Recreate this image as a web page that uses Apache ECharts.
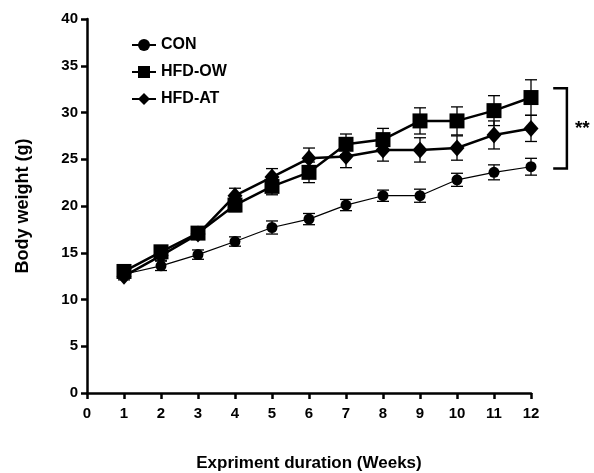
<!DOCTYPE html>
<html>
<head>
<meta charset="utf-8">
<script src="https://cdn.jsdelivr.net/npm/echarts@6/dist/echarts.min.js"></script>
<style>
  html, body { margin: 0; padding: 0; background: #fff; }
  #main { width: 594px; height: 473px; }
</style>
</head>
<body>
<div id="main"></div>
<script>
// weeks on x axis
var weeks = [1, 2, 3, 4, 5, 6, 7, 8, 9, 10, 11, 12];

// group means (g)
var conMean = [12.7, 13.6, 14.8, 16.2, 17.7, 18.6, 20.1, 21.1, 21.1, 22.8, 23.6, 24.2];
var owMean  = [13.0, 15.1, 17.1, 20.1, 22.1, 23.6, 26.6, 27.1, 29.1, 29.1, 30.2, 31.6];
var atMean  = [12.5, 14.7, 17.0, 21.1, 23.1, 25.1, 25.3, 26.0, 26.0, 26.2, 27.6, 28.3];

// error (+/-)
var conErr = [0.4, 0.5, 0.5, 0.5, 0.7, 0.6, 0.6, 0.6, 0.7, 0.7, 0.8, 0.9];
var owErr  = [0.4, 0.5, 0.5, 0.7, 0.9, 1.1, 1.1, 1.2, 1.4, 1.5, 1.6, 1.9];
var atErr  = [0.4, 0.5, 0.5, 0.8, 0.9, 1.1, 1.2, 1.2, 1.3, 1.3, 1.5, 1.4];

// significance bracket (data units) and label
var bracketX = [12.6, 12.97];
var bracketY = [24.0, 32.6];
var sigText = '**';

var fontName = 'Liberation Sans';

function pairs(m) {
  return weeks.map(function (w, i) { return [w, m[i]]; });
}
function errData(m, e) {
  return weeks.map(function (w, i) { return [w, m[i], e[i]]; });
}

// error bars with caps
function errRender(params, api) {
  var x = api.value(0), m = api.value(1), e = api.value(2);
  var top = api.coord([x, m + e]);
  var bot = api.coord([x, m - e]);
  var w = 6;
  var st = { stroke: '#000', lineWidth: 1.3 };
  return {
    type: 'group',
    children: [
      { type: 'line', shape: { x1: top[0], y1: top[1], x2: bot[0], y2: bot[1] }, style: st },
      { type: 'line', shape: { x1: top[0] - w, y1: top[1], x2: top[0] + w, y2: top[1] }, style: st },
      { type: 'line', shape: { x1: bot[0] - w, y1: bot[1], x2: bot[0] + w, y2: bot[1] }, style: st }
    ]
  };
}

function errSeries(m, e) {
  return {
    type: 'custom',
    renderItem: errRender,
    data: errData(m, e),
    z: 1,
    silent: true
  };
}

var chart = echarts.init(document.getElementById('main'));

var option = {
  animation: false,
  textStyle: { fontFamily: fontName },
  grid: { left: 87, right: 63, top: 19, bottom: 80, outerBoundsMode: 'none' },
  legend: {
    data: ['CON', 'HFD-OW', 'HFD-AT'],
    orient: 'vertical',
    left: 126,
    top: 32,
    itemGap: 11,
    itemWidth: 24,
    itemHeight: 15,
    textStyle: { fontFamily: fontName, fontWeight: 'bold', fontSize: 16, color: '#000' }
  },
  xAxis: {
    type: 'value',
    min: 0,
    max: 12,
    interval: 1,
    name: 'Expriment duration (Weeks)',
    nameLocation: 'middle',
    nameGap: 62,
    nameTextStyle: { fontFamily: fontName, fontWeight: 'bold', fontSize: 17, color: '#000' },
    axisLine: { lineStyle: { color: '#000', width: 2.5 } },
    axisTick: { show: true, length: 6, lineStyle: { color: '#000', width: 2.5 } },
    axisLabel: { fontFamily: fontName, fontWeight: 'bold', fontSize: 15, color: '#000', margin: 13 },
    splitLine: { show: false }
  },
  yAxis: {
    type: 'value',
    min: 0,
    max: 40,
    interval: 5,
    name: 'Body weight (g)',
    nameLocation: 'middle',
    nameGap: 55,
    nameTextStyle: { fontFamily: fontName, fontWeight: 'bold', fontSize: 18, color: '#000' },
    axisLine: { show: true, lineStyle: { color: '#000', width: 2.5 } },
    axisTick: { show: true, length: 6, lineStyle: { color: '#000', width: 2.5 } },
    axisLabel: { fontFamily: fontName, fontWeight: 'bold', fontSize: 15, color: '#000', margin: 9 },
    splitLine: { show: false }
  },
  series: [
    errSeries(conMean, conErr),
    errSeries(owMean, owErr),
    errSeries(atMean, atErr),
    {
      name: 'CON',
      type: 'line',
      data: pairs(conMean),
      symbol: 'circle',
      symbolSize: 11,
      lineStyle: { color: '#000', width: 1.2 },
      itemStyle: { color: '#000' },
      z: 3
    },
    {
      name: 'HFD-OW',
      type: 'line',
      data: pairs(owMean),
      symbol: 'rect',
      symbolSize: 15,
      lineStyle: { color: '#000', width: 2.5 },
      itemStyle: { color: '#000' },
      z: 3
    },
    {
      name: 'HFD-AT',
      type: 'line',
      data: pairs(atMean),
      symbol: 'diamond',
      symbolSize: [15, 17],
      lineStyle: { color: '#000', width: 2.5 },
      itemStyle: { color: '#000' },
      z: 3
    },
    {
      // significance bracket
      type: 'custom',
      clip: false,
      silent: true,
      data: [[bracketX[0], bracketX[1], bracketY[0], bracketY[1]]],
      renderItem: function (params, api) {
        var a = api.coord([api.value(0), api.value(3)]);
        var b = api.coord([api.value(1), api.value(3)]);
        var c = api.coord([api.value(1), api.value(2)]);
        var d = api.coord([api.value(0), api.value(2)]);
        var mid = (b[1] + c[1]) / 2;
        return {
          type: 'group',
          children: [
            {
              type: 'polyline',
              shape: { points: [a, b, c, d] },
              style: { stroke: '#000', lineWidth: 2.5, fill: null }
            },
            {
              type: 'text',
              style: {
                x: b[0] + 8, y: mid,
                text: sigText,
                font: 'bold 19px ' + fontName,
                fill: '#000',
                verticalAlign: 'middle',
                align: 'left'
              }
            }
          ]
        };
      }
    }
  ]
};

chart.setOption(option);
</script>
</body>
</html>
